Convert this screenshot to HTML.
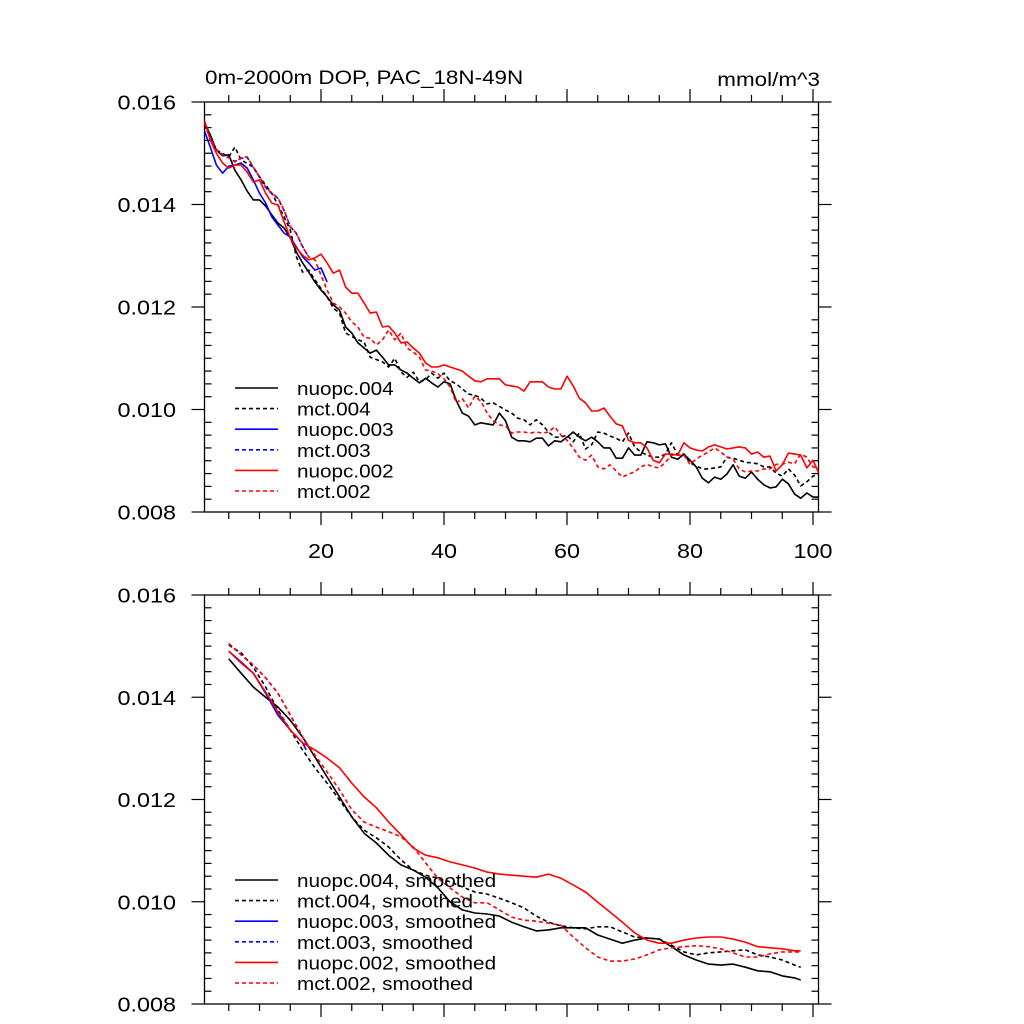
<!DOCTYPE html>
<html><head><meta charset="utf-8"><style>
html,body{margin:0;padding:0;background:#fff;}
svg{display:block;font-family:"Liberation Sans",sans-serif;}
</style></head><body>
<svg id="chart" width="1024" height="1024" viewBox="0 0 1024 1024" xmlns="http://www.w3.org/2000/svg"></svg>
<script>
// ---------- data ----------
const xTickLabels = ["20","40","60","80","100"];
const xTickValues = [20,40,60,80,100];
const yTickValues = [0.008,0.010,0.012,0.014,0.016];
const yTickLabels = ["0.008","0.010","0.012","0.014","0.016"];

// top panel (annual)
const yearsFull = Array.from({length:101},(_,i)=>i+1);
const nuopc004 = [0.01561,0.01536,0.01506,0.01495,0.01497,0.01467,0.01448,0.01426,0.01409,0.01409,
0.01397,0.01380,0.01364,0.01354,0.01335,0.01307,0.01286,0.01268,0.01249,0.01233,
0.01220,0.01204,0.01194,0.01161,0.01149,0.01130,0.01120,0.01110,0.01116,0.01102,
0.01087,0.01087,0.01077,0.01071,0.01061,0.01052,0.01061,0.01052,0.01044,0.01054,
0.01050,0.01017,0.00993,0.00987,0.00970,0.00974,0.00972,0.00970,0.00993,0.00978,
0.00946,0.00939,0.00939,0.00937,0.00944,0.00944,0.00929,0.00939,0.00937,0.00946,
0.00956,0.00946,0.00939,0.00946,0.00937,0.00925,0.00925,0.00905,0.00905,0.00925,
0.00911,0.00911,0.00937,0.00935,0.00931,0.00933,0.00907,0.00903,0.00913,0.00901,
0.00888,0.00866,0.00857,0.00868,0.00864,0.00874,0.00892,0.00870,0.00866,0.00878,
0.00864,0.00853,0.00847,0.00849,0.00864,0.00855,0.00835,0.00827,0.00837,0.00829,0.00829];
const mct004Years = [1,3,5,6,7,9,10,12,14,15,16,17,18,19,21,22,23,24,26,27,28,30,31,32,33,34,35,36,37,38,39,40,41,42,44,45,46,47,48,50,51,52,53,54,55,56,57,58,59,60,61,62,63,64,65,66,67,68,69,70,71,72,73,74,75,76,77,78,79,80,81,82,83,84,85,86,87,88,89,90,91,92,93,94,95,96,97,98,99,100,101];
const mct004 = [0.01555,0.01506,0.01493,0.01512,0.01487,0.01473,0.01454,0.01422,0.01376,0.01350,0.01298,0.01268,0.01272,0.01253,0.01220,0.01198,0.01188,0.01149,0.01136,0.01132,0.01102,0.01093,0.01083,0.01100,0.01073,0.01063,0.01073,0.01054,0.01058,0.01071,0.01061,0.01071,0.01056,0.01050,0.01030,0.01028,0.01022,0.01011,0.01013,0.00999,0.00993,0.00983,0.00980,0.00970,0.00980,0.00970,0.00956,0.00946,0.00946,0.00950,0.00937,0.00954,0.00923,0.00931,0.00956,0.00954,0.00948,0.00944,0.00937,0.00954,0.00927,0.00917,0.00911,0.00907,0.00907,0.00913,0.00935,0.00911,0.00913,0.00896,0.00890,0.00884,0.00884,0.00886,0.00888,0.00907,0.00905,0.00901,0.00897,0.00896,0.00894,0.00888,0.00888,0.00876,0.00870,0.00884,0.00872,0.00851,0.00859,0.00870,0.00874];
const nuopc003Years = [1,2,3,4,5,6,7,8,9,10,11,12,13,14,15,16,17,18,19,20,21];
const nuopc003 = [0.01545,0.01512,0.01477,0.01461,0.01475,0.01477,0.01481,0.01471,0.01448,0.01422,0.01403,0.01376,0.01360,0.01344,0.01337,0.01317,0.01298,0.01286,0.01272,0.01276,0.01249];
const mct003Years = [1,2,3,4,5,6,7,8,9,10,11,12,13,14,15,16,17,18];
const mct003 = [0.01558,0.01531,0.01507,0.01498,0.01492,0.01484,0.01490,0.01492,0.01472,0.01453,0.01433,0.01421,0.01412,0.01388,0.01357,0.01343,0.01318,0.01297];
const nuopc002 = [0.01565,0.01526,0.01500,0.01481,0.01471,0.01477,0.01477,0.01463,0.01444,0.01448,
0.01422,0.01403,0.01399,0.01366,0.01335,0.01315,0.01301,0.01292,0.01296,0.01303,
0.01286,0.01266,0.01272,0.01239,0.01227,0.01227,0.01208,0.01188,0.01190,0.01161,
0.01163,0.01149,0.01130,0.01132,0.01120,0.01110,0.01091,0.01083,0.01083,0.01087,
0.01083,0.01079,0.01075,0.01065,0.01056,0.01054,0.01060,0.01060,0.01060,0.01048,
0.01046,0.01044,0.01036,0.01054,0.01054,0.01054,0.01044,0.01040,0.01040,0.01065,
0.01046,0.01022,0.01013,0.00997,0.00997,0.01003,0.00987,0.00972,0.00968,0.00940,
0.00935,0.00935,0.00925,0.00901,0.00896,0.00913,0.00913,0.00911,0.00935,0.00925,
0.00921,0.00919,0.00927,0.00931,0.00927,0.00923,0.00925,0.00927,0.00925,0.00913,
0.00917,0.00907,0.00909,0.00880,0.00892,0.00915,0.00913,0.00911,0.00886,0.00901,0.00874];
const mct002 = [0.01559,0.01530,0.01506,0.01497,0.01491,0.01483,0.01491,0.01493,0.01473,0.01454,
0.01434,0.01422,0.01413,0.01389,0.01356,0.01344,0.01317,0.01298,0.01292,0.01262,
0.01233,0.01208,0.01200,0.01188,0.01171,0.01161,0.01141,0.01139,0.01126,0.01136,
0.01155,0.01136,0.01149,0.01120,0.01112,0.01102,0.01077,0.01075,0.01070,0.01060,
0.01044,0.01013,0.01021,0.01003,0.01026,0.01016,0.00993,0.00978,0.00970,0.00968,
0.00954,0.00956,0.00956,0.00954,0.00956,0.00954,0.00956,0.00966,0.00950,0.00940,
0.00925,0.00907,0.00901,0.00911,0.00888,0.00884,0.00892,0.00880,0.00868,0.00874,
0.00878,0.00888,0.00893,0.00888,0.00886,0.00897,0.00911,0.00911,0.00911,0.00893,
0.00903,0.00911,0.00917,0.00925,0.00917,0.00907,0.00903,0.00884,0.00878,0.00880,
0.00880,0.00884,0.00884,0.00893,0.00893,0.00897,0.00894,0.00913,0.00907,0.00888,0.00884];

// bottom panel (smoothed)
const smYears = [5,7,9,11,13,15,17,19,21,23,25,27,29,31,33,35,37,39,41,43,45,47,49,51,53,55,57,59,61,63,65,67,69,71,73,75,77,79,81,83,85,87,89,91,93,95,97,98];
const nuopc004S = [0.01475,0.01447,0.01420,0.01400,0.01381,0.01355,0.01322,0.01283,0.01244,0.01205,0.01166,0.01134,0.01115,0.01091,0.01072,0.01062,0.01048,0.01027,0.01000,0.00984,0.00978,0.00976,0.00972,0.00960,0.00951,0.00943,0.00945,0.00949,0.00949,0.00949,0.00935,0.00927,0.00919,0.00925,0.00929,0.00927,0.00912,0.00896,0.00886,0.00878,0.00876,0.00878,0.00872,0.00865,0.00863,0.00855,0.00851,0.00847];
const mct004S = [0.01502,0.01487,0.01459,0.01420,0.01375,0.01336,0.01297,0.01262,0.01232,0.01199,0.01166,0.01140,0.01125,0.01107,0.01082,0.01062,0.01052,0.01046,0.01039,0.01029,0.01019,0.01015,0.01007,0.00998,0.00988,0.00972,0.00960,0.00953,0.00949,0.00947,0.00951,0.00951,0.00941,0.00931,0.00929,0.00927,0.00915,0.00902,0.00896,0.00900,0.00902,0.00904,0.00906,0.00896,0.00892,0.00886,0.00876,0.00872];
const smYears003 = [5,7,9,11,13,15,17,17.6];
const nuopc003S = [0.01490,0.01469,0.01447,0.01408,0.01365,0.01336,0.01311,0.01297];
const mct003S = [0.01505,0.01483,0.01463,0.01438,0.01408,0.01365,0.01322,0.01310];
const nuopc002S = [0.01490,0.01467,0.01447,0.01410,0.01371,0.01336,0.01311,0.01297,0.01281,0.01262,0.01232,0.01205,0.01184,0.01156,0.01131,0.01105,0.01091,0.01086,0.01078,0.01072,0.01066,0.01058,0.01054,0.01052,0.01050,0.01048,0.01054,0.01046,0.01033,0.01019,0.00999,0.00980,0.00960,0.00939,0.00925,0.00919,0.00919,0.00925,0.00929,0.00931,0.00931,0.00927,0.00921,0.00912,0.00910,0.00908,0.00904,0.00904];
const mct002S = [0.01505,0.01483,0.01463,0.01438,0.01408,0.01365,0.01322,0.01287,0.01254,0.01219,0.01180,0.01156,0.01146,0.01137,0.01127,0.01107,0.01076,0.01046,0.01027,0.01009,0.00998,0.00998,0.00984,0.00970,0.00964,0.00962,0.00958,0.00954,0.00931,0.00910,0.00892,0.00884,0.00884,0.00888,0.00896,0.00906,0.00910,0.00912,0.00914,0.00912,0.00908,0.00900,0.00892,0.00892,0.00898,0.00902,0.00902,0.00902];

// ---------- drawing ----------
const NS="http://www.w3.org/2000/svg";
const svg=document.getElementById('chart');
const cv=document.createElement('canvas').getContext('2d');
function mk(tag,attrs,parent){const e=document.createElementNS(NS,tag);for(const k in attrs)e.setAttribute(k,attrs[k]);(parent||svg).appendChild(e);return e;}
function txt(str,x,y,size,anchor,parent,stretch){
  const e=mk('text',{x:x,y:y,'font-size':size,'text-anchor':anchor||'start',fill:'#000'},parent);
  e.textContent=str;
  cv.font=size+'px "Liberation Sans"';
  const w=cv.measureText(str).width*(stretch||1.17);
  e.setAttribute('textLength',w.toFixed(1));
  e.setAttribute('lengthAdjust','spacingAndGlyphs');
  return e;
}
const XL=204.5, XR=818.5;
function xs(yr){return 198+6.15*yr;}

function panel(name,top,bottom,showXLabels){
  const g=mk('g',{});
  
  
  const ys=v=>bottom-(v-0.008)/0.008*(bottom-top);
  const fr=mk('rect',{x:XL,y:top,width:XR-XL,height:bottom-top,fill:'none',stroke:'#000','stroke-width':1.3},g);
  
  
  const yt=mk('g',{stroke:'#000','stroke-width':1.2},g);
  
  
  for(let i=0;i<=32;i++){
    const v=0.008+i*0.00025, y=ys(v);
    if(i%8===0){mk('line',{x1:XL-13,x2:XL,y1:y,y2:y},yt);mk('line',{x1:XR,x2:XR+13,y1:y,y2:y},yt);}
    else{mk('line',{x1:XL,x2:XL+7,y1:y,y2:y},yt);mk('line',{x1:XR-7,x2:XR,y1:y,y2:y},yt);}
  }
  const yl=mk('g',{},g);
  
  
  yTickValues.forEach((v,i)=>{txt(yTickLabels[i],176,ys(v)+7.5,20.5,'end',yl,1.14);});
  const xt=mk('g',{stroke:'#000','stroke-width':1.2},g);
  
  
  for(let t=5;t<=100;t+=5){
    const x=xs(t), L=(t%20===0)?13:7;
    mk('line',{x1:x,x2:x,y1:bottom,y2:bottom+L},xt);
    mk('line',{x1:x,x2:x,y1:top-L,y2:top},xt);
  }
  if(showXLabels){
    const xl=mk('g',{},g);
    
    
    xTickValues.forEach((v,i)=>{txt(xTickLabels[i],xs(v),bottom+46,20.5,'middle',xl,1.14);});
  }
  const clip='clip-'+name;
  const cp=mk('clipPath',{id:clip},g);
  mk('rect',{x:XL,y:top,width:XR-XL,height:bottom-top},cp);
  const lg=mk('g',{'clip-path':'url(#'+clip+')'},g);
  return {g,ys,lg};
}
function series(p,name,years,vals,color,dashed){
  const d=years.map((yr,i)=>(i?'L':'M')+xs(yr).toFixed(1)+','+p.ys(vals[i]).toFixed(1)).join('');
  const e=mk('path',{d:d,fill:'none',stroke:color,'stroke-width':1.6,'stroke-linejoin':'round'},p.lg);
  if(dashed)e.setAttribute('stroke-dasharray','4 3');
  
  
}
function legend(p,name,x0,y0,labels,colors,dashes){
  const lg=mk('g',{},p.g);
  
  
  labels.forEach((l,i)=>{
    const y=y0+i*20.6;
    const ent=mk('g',{},lg);
    
    
    const ln=mk('line',{x1:x0,x2:x0+43,y1:y,y2:y,stroke:colors[i],'stroke-width':1.6},ent);
    if(dashes[i])ln.setAttribute('stroke-dasharray','4 3');
    txt(l,x0+62,y+7,18,'start',ent,1.15);
  });
}
const colors=['#000','#000','#0000ff','#0000ff','#ff0000','#ff0000'];
const dashes=[false,true,false,true,false,true];

const P1=panel('top-panel',102,512,true);
series(P1,'line-nuopc-004',yearsFull,nuopc004,'#000',false);
series(P1,'line-mct-004',mct004Years,mct004,'#000',true);
series(P1,'line-nuopc-003',nuopc003Years,nuopc003,'#0000ff',false);
series(P1,'line-mct-003',mct003Years,mct003,'#0000ff',true);
series(P1,'line-nuopc-002',yearsFull,nuopc002,'#ff0000',false);
series(P1,'line-mct-002',yearsFull,mct002,'#ff0000',true);
legend(P1,'top-legend',235,388,['nuopc.004','mct.004','nuopc.003','mct.003','nuopc.002','mct.002'],colors,dashes);
const t1=txt('0m-2000m DOP, PAC_18N-49N',205,84,19.5,'start',P1.g,1.15);


const t2=txt('mmol/m^3',820,86,19.5,'end',P1.g,1.15);



const P2=panel('bottom-panel',595,1004,false);
series(P2,'line-nuopc-004-smoothed',smYears,nuopc004S,'#000',false);
series(P2,'line-mct-004-smoothed',smYears,mct004S,'#000',true);
series(P2,'line-nuopc-003-smoothed',smYears003,nuopc003S,'#0000ff',false);
series(P2,'line-mct-003-smoothed',smYears003,mct003S,'#0000ff',true);
series(P2,'line-nuopc-002-smoothed',smYears,nuopc002S,'#ff0000',false);
series(P2,'line-mct-002-smoothed',smYears,mct002S,'#ff0000',true);
legend(P2,'bottom-legend',235,880,['nuopc.004, smoothed','mct.004, smoothed','nuopc.003, smoothed','mct.003, smoothed','nuopc.002, smoothed','mct.002, smoothed'],colors,dashes);
</script>
</body></html>
